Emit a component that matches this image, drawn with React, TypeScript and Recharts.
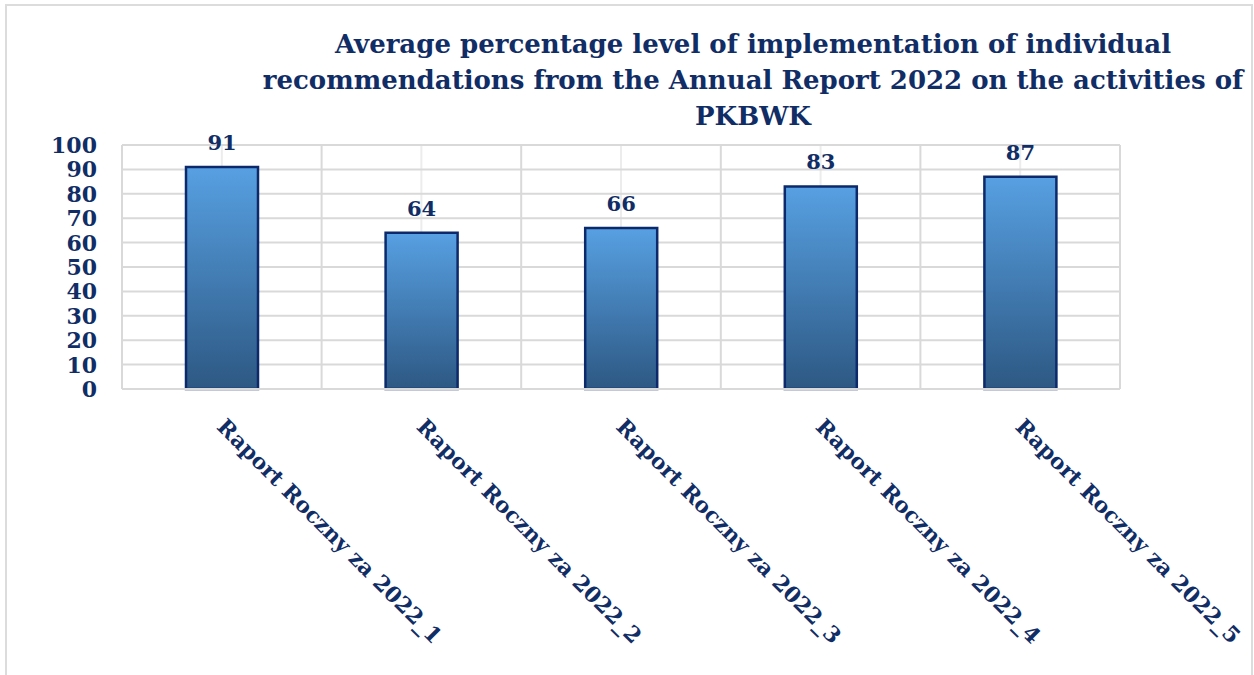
import React from "react";
import { BarChart, Bar, XAxis, YAxis, CartesianGrid, LabelList } from "recharts";

const categories = [
  "Raport Roczny za 2022_1",
  "Raport Roczny za 2022_2",
  "Raport Roczny za 2022_3",
  "Raport Roczny za 2022_4",
  "Raport Roczny za 2022_5",
];
const values = [91, 64, 66, 83, 87];
const yTicks = [0, 10, 20, 30, 40, 50, 60, 70, 80, 90, 100];
const titleLines = [
  "Average percentage level of implementation of individual",
  "recommendations from the Annual Report 2022 on the activities of",
  "PKBWK",
];

const NAVY = "#112d66";
const GRID = "#d9d9d9";
const FONT = "'DejaVu Serif', 'Liberation Serif', serif";

const data = categories.map((name, i) => ({ name, value: values[i] }));

function YTick({ x, y, payload }: { x?: number; y?: number; payload?: { value: number } }) {
  return (
    <text
      x={(x ?? 0) - 25}
      y={y}
      dy="0.36em"
      textAnchor="end"
      fill={NAVY}
      fontFamily={FONT}
      fontWeight="bold"
      fontSize={22}
    >
      {payload?.value}
    </text>
  );
}

// category labels run down-right at 45 degrees, like the Excel original
function XTick({ x, y, payload }: { x?: number; y?: number; payload?: { value: string } }) {
  const tx = (x ?? 0) - 6;
  const ty = (y ?? 0) + 39;
  return (
    <text
      x={tx}
      y={ty}
      transform={`rotate(45 ${tx} ${ty})`}
      textAnchor="start"
      fill={NAVY}
      fontFamily={FONT}
      fontWeight="bold"
      fontSize={21.8}
    >
      {payload?.value}
    </text>
  );
}

function ValueLabel(props: { x?: number; y?: number; width?: number; value?: number }) {
  const { x = 0, y = 0, width = 0, value } = props;
  return (
    <text
      x={x + width / 2}
      y={y - 17}
      textAnchor="middle"
      fill={NAVY}
      fontFamily={FONT}
      fontWeight="bold"
      fontSize={21}
    >
      {value}
    </text>
  );
}

export default function App() {
  return (
    <div
      style={{
        position: "fixed",
        left: 0,
        top: 0,
        width: 1254,
        height: 675,
        background: "#fff",
        overflow: "hidden",
      }}
    >
      <div
        style={{
          position: "absolute",
          left: 5,
          top: 4,
          width: 1248,
          height: 700,
          border: "2px solid #dcdcdc",
          boxSizing: "border-box",
        }}
      />
      <BarChart
        width={1254}
        height={675}
        data={data}
        margin={{ top: 145, right: 134, bottom: 256, left: 42 }}
        style={{ position: "absolute", left: 0, top: 0 }}
      >
        <defs>
          <linearGradient id="barFill" x1="0" y1="0" x2="0" y2="1">
            <stop offset="0%" stopColor="#57a0e2" />
            <stop offset="100%" stopColor="#2d5883" />
          </linearGradient>
        </defs>
        {/* lighter lines through the category centres */}
        <CartesianGrid horizontal={false} stroke="#ececec" strokeWidth={2} />
        <CartesianGrid
          stroke={GRID}
          strokeWidth={2}
          verticalCoordinatesGenerator={({ offset }: any) =>
            categories.map((_, i) => offset.left + (i * offset.width) / categories.length).concat(offset.left + offset.width)
          }
        />
        <XAxis
          dataKey="name"
          axisLine={{ stroke: GRID, strokeWidth: 2 }}
          tickLine={false}
          tickSize={0}
          tickMargin={0}
          interval={0}
          tick={<XTick />}
        />
        <YAxis
          width={80}
          domain={[0, 100]}
          ticks={yTicks}
          interval={0}
          axisLine={false}
          tickLine={false}
          tickSize={0}
          tickMargin={0}
          tick={<YTick />}
        />
        <Bar
          dataKey="value"
          barSize={72}
          fill="url(#barFill)"
          stroke="#0c2a6b"
          strokeWidth={2.5}
          isAnimationActive={false}
        >
          <LabelList dataKey="value" content={<ValueLabel />} />
        </Bar>
        <g>
          {titleLines.map((line, i) => (
            <text
              key={i}
              x={753}
              y={53 + i * 36}
              textAnchor="middle"
              fill={NAVY}
              fontFamily={FONT}
              fontWeight="bold"
              fontSize={26}
            >
              {line}
            </text>
          ))}
        </g>
      </BarChart>
    </div>
  );
}
